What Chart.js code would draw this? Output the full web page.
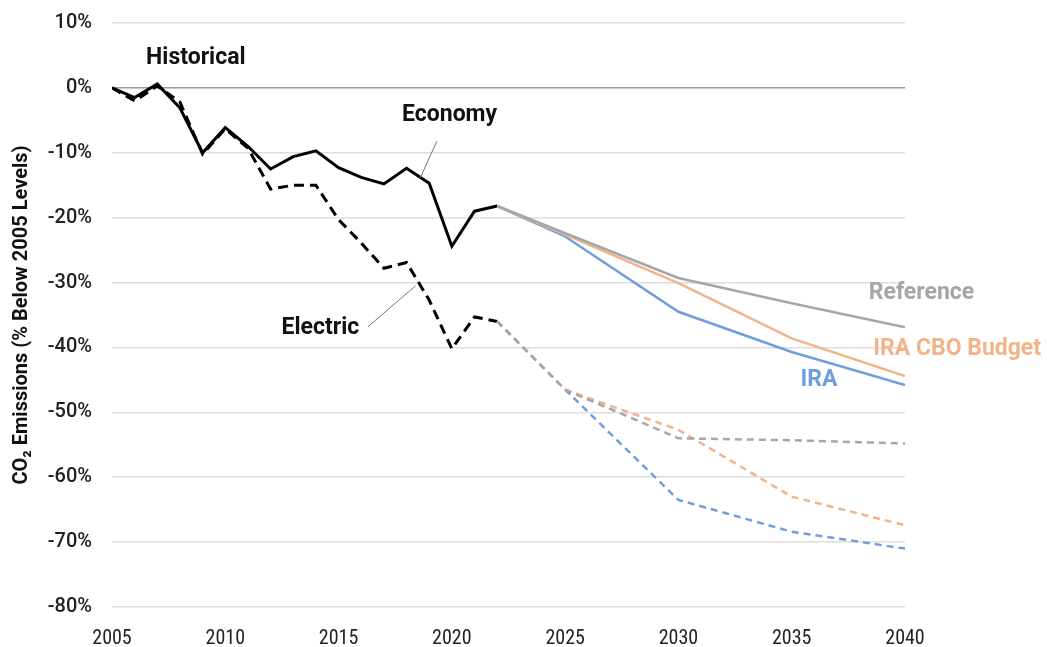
<!DOCTYPE html>
<html>
<head>
<meta charset="utf-8">
<script src="https://cdn.jsdelivr.net/npm/chart.js@4.4.1/dist/chart.umd.min.js"></script>
<style>
  html, body { margin: 0; padding: 0; background: #fff; }
  #wrap { width: 1047px; height: 647px; position: relative; }
</style>
</head>
<body>
<div id="wrap"><canvas id="co2Chart"></canvas></div>
<script>
// historical, 2005-2022 (% change vs 2005)
const histYears = [2005, 2006, 2007, 2008, 2009, 2010, 2011, 2012, 2013, 2014, 2015, 2016, 2017, 2018, 2019, 2020, 2021, 2022];
const econHist = [0, -1.5, 0.6, -3.1, -10.0, -6.1, -9.0, -12.5, -10.6, -9.7, -12.3, -13.8, -14.8, -12.4, -14.7, -24.4, -19.0, -18.2];
const elecHist = [0, -2.0, 0.3, -2.2, -10.2, -6.3, -9.3, -15.6, -15.0, -15.0, -20.3, -23.9, -27.8, -26.9, -32.7, -40.2, -35.3, -36.0];

// projections
const projYears = [2022, 2025, 2030, 2035, 2040];
const econRef = [-18.2, -22.4, -29.3, -33.2, -36.9];
const econCbo = [-18.2, -22.6, -30.1, -38.6, -44.4];
const econIra = [-18.2, -22.9, -34.5, -40.7, -45.8];
const elecRef = [-36.0, -46.5, -54.0, -54.3, -54.8];
const elecCbo = [-36.0, -46.5, -52.7, -63.0, -67.4];
const elecIra = [-36.0, -46.5, -63.5, -68.4, -71.0];

const yTicks = [10, 0, -10, -20, -30, -40, -50, -60, -70, -80];
const xTicks = [2005, 2010, 2015, 2020, 2025, 2030, 2035, 2040];

const BLUE = '#6f9fdb';
const ORANGE = '#f3b388';
const GRAY = '#a6a6a6';

function pts(xs, ys) {
  return xs.map(function(x, i) { return { x: x, y: ys[i] } });
}

// text labels + leader lines, placed in data units
const labels = [
  { text: 'Historical', x: 2008.7, y: 4.6, color: '#111', align: 'center' },
  { text: 'Economy', x: 2019.9, y: -4.2, color: '#111', align: 'center' },
  { text: 'Electric', x: 2014.2, y: -37.1, color: '#111', align: 'center' },
  { text: 'Reference', x: 2038.4, y: -31.7, color: GRAY, align: 'left' },
  { text: 'IRA CBO Budget', x: 2038.6, y: -40.3, color: ORANGE, align: 'left' },
  { text: 'IRA', x: 2036.2, y: -45.1, color: BLUE, align: 'center' }
];
const leaders = [
  [2019.34, -8.2, 2018.6, -13.9],
  [2016.3, -36.8, 2018.4, -30.5]
];

const labelPlugin = {
  id: 'labelPlugin',
  afterDatasetsDraw: function(chart) {
    const ctx = chart.ctx;
    const xs = chart.scales.x, ys = chart.scales.y;
    ctx.save();
    ctx.strokeStyle = '#777';
    ctx.lineWidth = 1;
    leaders.forEach(function(l) {
      ctx.beginPath();
      ctx.moveTo(xs.getPixelForValue(l[0]), ys.getPixelForValue(l[1]));
      ctx.lineTo(xs.getPixelForValue(l[2]), ys.getPixelForValue(l[3]));
      ctx.stroke();
    });
    ctx.font = 'bold 23px Roboto, "Liberation Sans", sans-serif';
    ctx.textBaseline = 'middle';
    labels.forEach(function(l) {
      ctx.fillStyle = l.color;
      ctx.textAlign = l.align;
      ctx.fillText(l.text, xs.getPixelForValue(l.x), ys.getPixelForValue(l.y));
    });
    ctx.restore();
  }
};

function line(data, color, width, dash) {
  return {
    data: data,
    borderColor: color,
    borderWidth: width,
    borderDash: dash || [],
    pointRadius: 0,
    fill: false,
    tension: 0
  };
}

new Chart(document.getElementById('co2Chart'), {
  type: 'line',
  data: {
    datasets: [
      line(pts(projYears, elecRef), GRAY, 2.5, [7, 5]),
      line(pts(projYears, elecCbo), ORANGE, 2.5, [7, 5]),
      line(pts(projYears, elecIra), BLUE, 2.5, [7, 5]),
      line(pts(projYears, econRef), GRAY, 2.5),
      line(pts(projYears, econCbo), ORANGE, 2.5),
      line(pts(projYears, econIra), BLUE, 2.5),
      line(pts(histYears, elecHist), '#000', 3, [10, 6]),
      line(pts(histYears, econHist), '#000', 3)
    ]
  },
  options: {
    responsive: true,
    maintainAspectRatio: false,
    animation: false,
    layout: { padding: { top: 23, right: 142, left: 4, bottom: 0 } },
    plugins: {
      legend: { display: false },
      tooltip: { enabled: false }
    },
    scales: {
      x: {
        type: 'linear',
        min: 2005,
        max: 2040,
        afterBuildTicks: function(s) { s.ticks = xTicks.map(function(v) { return { value: v } }) },
        afterFit: function(s) { s.height = 40 },
        grid: { display: false },
        border: { display: false },
        ticks: {
          color: '#222',
          padding: 12,
          maxRotation: 0,
          font: { family: '"Roboto Condensed", "Liberation Sans Narrow", "DejaVu Sans Condensed", Roboto, sans-serif', size: 20 },
          callback: function(v) { return String(v) }
        }
      },
      y: {
        min: -80,
        max: 10,
        afterBuildTicks: function(s) { s.ticks = yTicks.map(function(v) { return { value: v } }) },
        afterFit: function(s) { s.width = 108; s.paddingTop = 0; s.paddingBottom = 0 },
        border: { display: false },
        grid: {
          drawTicks: false,
          lineWidth: 1.5,
          color: function(c) { return c.tick && c.tick.value === 0 ? '#9a9a9a' : '#dedede' }
        },
        ticks: {
          color: '#222',
          padding: 20,
          font: { family: 'Roboto, sans-serif', size: 20, weight: '500' },
          callback: function(v) { return v + '%' }
        },
        title: {
          display: true,
          text: 'CO\u2082 Emissions (% Below 2005 Levels)',
          color: '#111',
          padding: { top: 6, bottom: 2 },
          font: { family: 'Roboto, sans-serif', size: 20, weight: 'bold' }
        }
      }
    }
  },
  plugins: [labelPlugin]
});
</script>
</body>
</html>
